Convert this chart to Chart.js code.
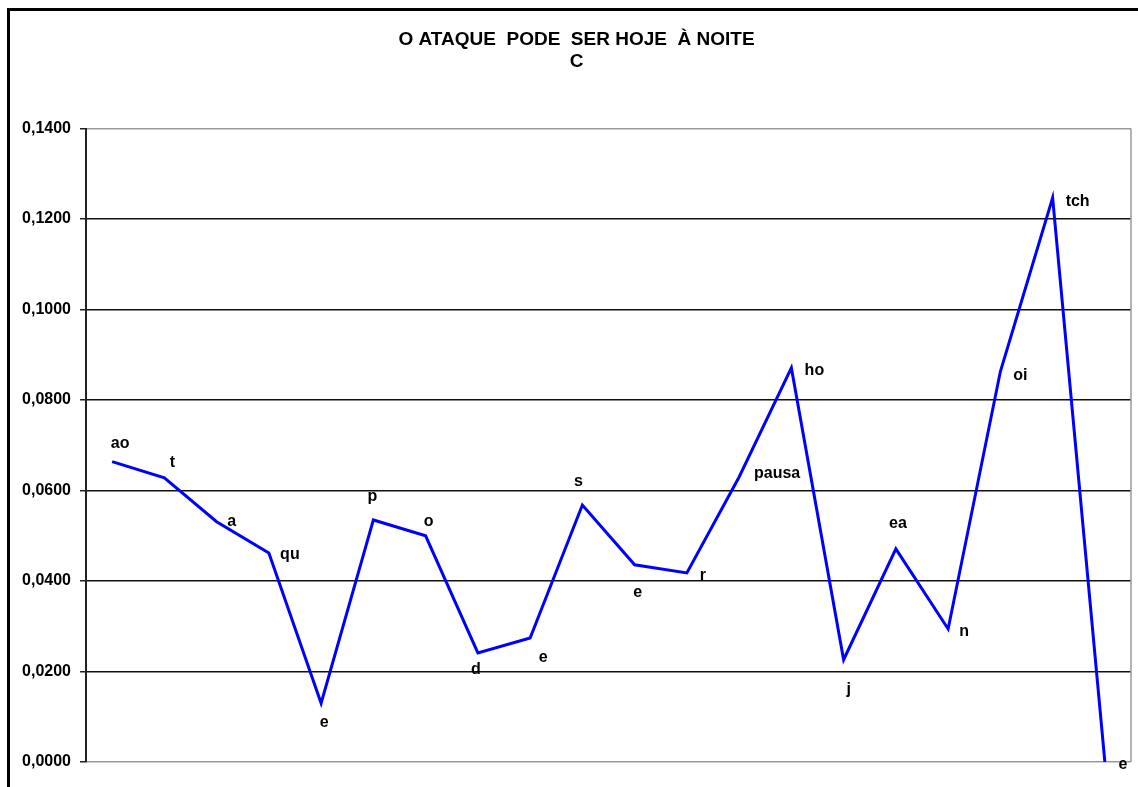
<!DOCTYPE html>
<html>
<head>
<meta charset="utf-8">
<script src="https://cdn.jsdelivr.net/npm/chart.js@4.4.0/dist/chart.umd.min.js"></script>
<style>
    html, body { margin: 0; padding: 0; background: #fff; }
    #wrap { position: relative; width: 1138px; height: 787px; }
</style>
</head>
<body>
<div id="wrap"><canvas id="chart"></canvas></div>
<script>
// sounds along the phrase (x categories)
const sounds = ['ao', 't', 'a', 'qu', 'e', 'p', 'o', 'd', 'e', 's', 'e', 'r', 'pausa', 'ho', 'j', 'ea', 'n', 'oi', 'tch', 'e'];
// measured values
const values = [0.0664, 0.0628, 0.0531, 0.0462, 0.0130, 0.0535, 0.0500, 0.0241, 0.0274, 0.0568,
                0.0436, 0.0418, 0.0630, 0.0871, 0.0226, 0.0471, 0.0294, 0.0863, 0.1247, 0.0000];
// y axis ticks
const yTicks = [0, 0.02, 0.04, 0.06, 0.08, 0.10, 0.12, 0.14];

const FONT = "'Liberation Sans', Arial, sans-serif";

// where each label sits relative to its point (like the Excel labels)
const labelOffsets = [
    [8, -18], [8, -15], [15, 0], [21, 2], [3, 19], [-1, -23], [3, -14], [-2, 17], [13, 20], [-4, -23],
    [3, 28], [16, 3], [38, -3], [23, 3], [5, 30], [2, -25], [16, 3], [20, 4], [25, 4], [18, 3]
];

// page frame + grey right edge of the plot
const framePlugin = {
    id: 'frame',
    beforeDraw(chart) {
        const ctx = chart.ctx;
        ctx.save();
        ctx.fillStyle = '#ffffff';
        ctx.fillRect(0, 0, chart.width, chart.height);
        ctx.strokeStyle = '#000';
        ctx.lineWidth = 3;
        ctx.strokeRect(8.5, 9.5, chart.width + 20, chart.height + 20);
        ctx.restore();
    },
    beforeDatasetsDraw(chart) {
        const a = chart.chartArea;
        const ctx = chart.ctx;
        ctx.save();
        ctx.strokeStyle = '#9a9a9a';
        ctx.lineWidth = 1.5;
        ctx.beginPath();
        ctx.moveTo(a.right, a.top);
        ctx.lineTo(a.right, a.bottom);
        ctx.stroke();
        ctx.restore();
    }
};

// text labels next to the points
const pointLabels = {
    id: 'pointLabels',
    afterDatasetsDraw(chart) {
        const ctx = chart.ctx;
        const meta = chart.getDatasetMeta(0);
        ctx.save();
        ctx.font = 'bold 16px ' + FONT;
        ctx.fillStyle = '#000';
        ctx.textAlign = 'center';
        ctx.textBaseline = 'middle';
        meta.data.forEach((pt, i) => {
            const off = labelOffsets[i];
            ctx.fillText(sounds[i], pt.x + off[0], pt.y + off[1]);
        });
        ctx.restore();
    }
};

const ctx = document.getElementById('chart').getContext('2d');
const chart = new Chart(ctx, {
    type: 'line',
    data: {
        labels: sounds,
        datasets: [{
            data: values,
            borderColor: '#0000ff',
            borderWidth: 3,
            pointRadius: 0,
            tension: 0,
            fill: false
        }]
    },
    options: {
        responsive: true,
        maintainAspectRatio: false,
        animation: false,
        layout: {
            padding: { left: 22, right: 7, top: 0, bottom: 25 }
        },
        plugins: {
            legend: { display: false },
            tooltip: { enabled: false },
            title: {
                display: true,
                text: ['O ATAQUE  PODE  SER HOJE  À NOITE', 'C'],
                color: '#000',
                font: { family: FONT, size: 19, weight: 'bold', lineHeight: 1.2 },
                padding: { top: 28, bottom: 55 }
            }
        },
        scales: {
            x: {
                type: 'category',
                display: false,
                offset: true
            },
            y: {
                min: 0,
                max: 0.14,
                afterFit(scale) { scale.width = 64; },
                afterBuildTicks(scale) {
                    scale.ticks = yTicks.map(v => ({ value: v }));
                },
                border: { color: '#222', width: 2 },
                grid: {
                    color: c => (c.tick && (c.tick.value === 0 || c.tick.value === 0.14)) ? '#9a9a9a' : '#111',
                    lineWidth: 1.5,
                    tickLength: 6,
                    tickColor: '#222'
                },
                ticks: {
                    padding: 9,
                    color: '#000',
                    font: { family: FONT, size: 16, weight: 'bold' },
                    callback: v => Number(v).toFixed(4).replace('.', ',')
                }
            }
        }
    },
    plugins: [framePlugin, pointLabels]
});
</script>
</body>
</html>
